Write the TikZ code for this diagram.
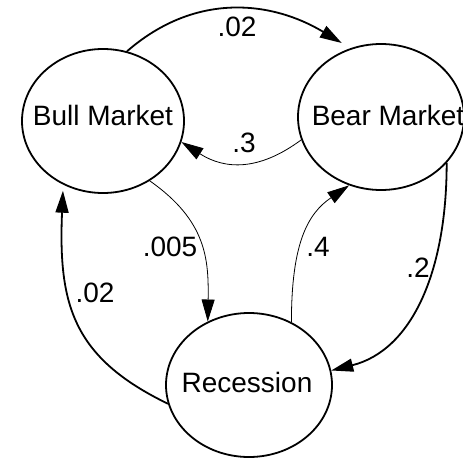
\documentclass[tikz,border=0pt]{standalone}
\usepackage{fontspec}
\setmainfont{Liberation Sans}
\usetikzlibrary{shapes.geometric,arrows.meta}
\begin{document}
\begin{tikzpicture}[x=1pt,y=-1pt,
  state/.style={ellipse,draw,line width=1.8pt,inner sep=0pt},
  txt/.style={inner sep=0pt,font=\fontsize{28}{32}\selectfont},
  thickedge/.style={line width=1.8pt,-{Triangle[length=22pt,width=13pt]}},
  thinedge/.style={line width=0.8pt,-{Triangle[length=22pt,width=13pt]}}]
\useasboundingbox (0,0) rectangle (463,458);
\node[state,minimum width=162pt,minimum height=144pt] (bull) at (103,121) {};
\node[state,minimum width=166pt,minimum height=146pt] (bear) at (381,117) {};
\node[state,minimum width=166pt,minimum height=144pt] (rec) at (249,385) {};
\node[txt] (bulltxt) at (103,115) {Bull Market};
\node[txt] (beartxt) at (388,115) {Bear Market};
\node[txt] (rectxt) at (247,382) {Recession};
% edges
\draw[thickedge,shorten >=10pt] (bull.71) .. controls +(69,-60) and +(-78,-47) .. (bear.114);
\draw[thinedge] (bear.196) .. controls +(-42,31) and +(44,28) .. (bull.345);
\draw[thinedge] (bull.308) .. controls +(57,40) and +(1,-62) .. (rec.123);
\draw[thinedge] (rec.56) .. controls +(0,-80) and +(-41,28) .. (bear.245.5);
\draw[thickedge] (bear.325) .. controls +(0,110) and +(80,-20) .. (rec.10.5);
\draw[thickedge,shorten >=6pt] (rec.193.4) .. controls +(-95,-46) and +(-5,120) .. (bull.238);
% labels
\node[txt] (l1) at (237,27) {.02};
\node[txt] (l2) at (244,143) {.3};
\node[txt] (l3) at (170,247) {.005};
\node[txt] (l4) at (318,247) {.4};
\node[txt] (l5) at (418,268) {.2};
\node[txt] (l6) at (95,293) {.02};
\end{tikzpicture}
\end{document}
